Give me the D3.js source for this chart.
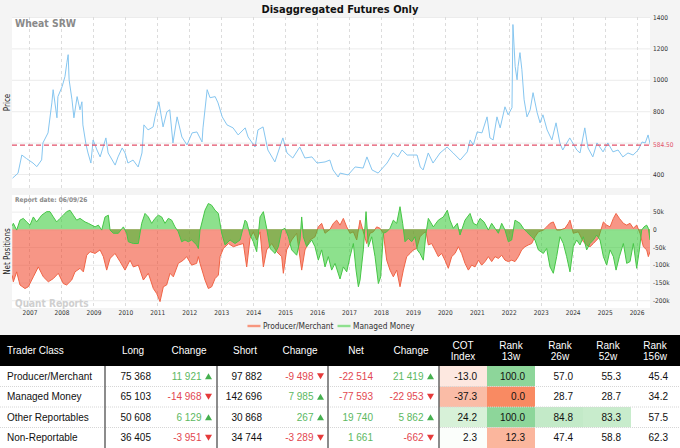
<!DOCTYPE html>
<html>
<head>
<meta charset="utf-8">
<script src="https://cdn.jsdelivr.net/npm/d3@7"></script>
<style>
body { margin: 0; background: #f4f4f4; }
svg { display: block; }
</style>
</head>
<body>
<svg id="chart" width="680" height="448"></svg>
<script>
// ---- price (decimal year, cents/bu) ----
var priceDates = [2006.47,2006.64,2006.76,2006.91,2007.11,2007.23,2007.38,2007.42,2007.58,2007.70,2007.74,2007.86,2007.89,
  2008.02,2008.11,2008.17,2008.21,2008.24,2008.33,2008.39,2008.49,2008.58,2008.64,2008.67,2008.77,2008.83,2008.92,2008.99,
  2009.11,2009.21,2009.39,2009.46,2009.68,2009.77,2009.90,2009.99,2010.08,2010.24,2010.40,2010.52,2010.58,2010.71,2010.87,2010.93,
  2011.05,2011.18,2011.30,2011.39,2011.49,2011.62,2011.77,2011.93,2012.09,2012.24,2012.40,2012.43,2012.56,2012.65,2012.81,2012.90,
  2013.03,2013.18,2013.37,2013.53,2013.75,2013.84,2014.06,2014.15,2014.31,2014.46,2014.68,2014.93,2015.06,2015.24,2015.46,2015.62,2015.84,
  2016.00,2016.25,2016.40,2016.50,2016.66,2016.72,2016.97,2017.19,2017.44,2017.56,2017.72,2017.91,2018.19,2018.38,2018.53,2018.66,2018.82,
  2019.13,2019.23,2019.32,2019.48,2019.63,2019.85,2020.07,2020.26,2020.48,2020.70,2020.79,2020.89,2021.01,2021.16,2021.32,2021.41,2021.51,
  2021.63,2021.73,2021.88,2021.98,2022.10,2022.13,2022.20,2022.26,2022.29,2022.35,2022.41,2022.48,2022.57,2022.67,2022.76,2022.89,2022.98,
  2023.07,2023.20,2023.35,2023.48,2023.60,2023.69,2023.91,2024.13,2024.23,2024.38,2024.48,2024.63,2024.76,2024.95,2025.10,2025.26,2025.42,
  2025.57,2025.73,2025.89,2026.05,2026.17,2026.27,2026.36,2026.43];
var priceValues = [374,405,521,498,470,447,490,598,662,853,937,758,893,
  956,1020,1109,1160,1000,873,758,893,809,860,713,585,534,470,617,
  553,509,630,534,457,509,566,534,470,489,445,534,713,681,700,764,
  860,700,796,809,598,764,636,585,662,668,604,694,937,886,893,853,
  764,713,694,649,694,636,572,681,700,553,477,630,534,502,572,502,509,
  470,477,489,426,381,406,394,445,438,509,426,406,470,534,509,553,521,
  521,445,426,534,470,534,572,534,489,541,617,585,668,662,764,630,617,
  764,694,828,777,822,1352,1084,1000,1084,1173,1064,873,764,809,918,790,726,
  777,681,617,726,598,553,630,553,534,694,566,509,598,541,598,541,553,
  509,534,521,553,604,598,649,585];
var lastPrice = 584.50;

// ---- net positions, thousands of contracts ----
var pmDates = [2006.46,2006.494,2006.598,2006.703,2006.859,2006.963,2007.120,2007.276,2007.433,2007.589,2007.746,2007.902,
  2008.059,2008.163,2008.320,2008.424,2008.581,2008.685,2008.789,2008.894,2009.050,2009.207,2009.311,2009.415,2009.520,2009.676,
  2009.833,2009.989,2010.146,2010.250,2010.406,2010.563,2010.719,2010.876,2010.980,2011.085,2011.189,2011.293,2011.398,2011.502,
  2011.659,2011.815,2011.919,2012.076,2012.232,2012.285,2012.337,2012.493,2012.597,2012.702,2012.806,2012.910,2012.963,2013.067,
  2013.224,2013.380,2013.537,2013.693,2013.797,2013.902,2014.006,2014.110,2014.215,2014.319,2014.423,2014.580,2014.736,2014.893,
  2014.945,2015.050,2015.206,2015.363,2015.519,2015.623,2015.780,2015.936,2016.040,2016.144,2016.249,2016.405,2016.510,2016.614,
  2016.718,2016.822,2016.927,2017.031,2017.135,2017.240,2017.344,2017.448,2017.553,2017.657,2017.761,2017.866,2017.970,2018.074,
  2018.179,2018.283,2018.387,2018.492,2018.596,2018.700,2018.805,2018.909,2019.013,2019.118,2019.222,2019.326,2019.410,2019.483,
  2019.587,2019.691,2019.796,2019.900,2020.004,2020.109,2020.213,2020.317,2020.422,2020.526,2020.630,2020.735,2020.839,2020.943,
  2021.048,2021.152,2021.256,2021.361,2021.465,2021.569,2021.674,2021.778,2021.882,2021.987,2022.091,2022.195,2022.300,2022.404,
  2022.508,2022.613,2022.717,2022.821,2022.926,2023.082,2023.186,2023.291,2023.395,2023.499,2023.604,2023.760,2023.865,2023.917,
  2024.021,2024.178,2024.334,2024.438,2024.543,2024.647,2024.804,2024.960,2025.064,2025.169,2025.273,2025.357,2025.461,2025.586,
  2025.690,2025.795,2025.899,2026.003,2026.108,2026.212,2026.316,2026.368,2026.420];
var pmNet = [-130,-148,-120,-157,-167,-162,-134,-106,-134,-148,-139,-124,
  -153,-157,-143,-120,-110,-120,-73,-63,-68,-58,-77,-115,-82,-68,
  -91,-115,-87,-106,-101,-143,-124,-167,-181,-204,-162,-157,-124,-134,
  -96,-87,-77,-101,-96,-77,-96,-143,-167,-162,-139,-129,-77,-54,
  -40,-49,-44,-40,-106,-25,-7,-30,-7,-106,-58,-40,-63,-77,
  -124,-58,-30,-11,-115,-58,-30,-21,7,17,-11,0,17,26,
  12,31,7,-11,-7,-30,26,-7,-40,-11,-7,7,3,-11,
  -87,-115,-134,-115,-162,-115,-77,-68,-58,-54,-21,-11,-7,-44,
  -40,-58,-77,-68,-87,-110,-77,-68,-49,-68,-96,-115,-101,-106,
  -87,-101,-91,-77,-91,-77,-82,-73,-87,-91,-87,-91,-77,-58,
  -49,-44,-40,-21,-7,-2,7,17,21,-2,-2,3,17,26,
  -11,-7,-35,-44,-49,-40,-25,21,12,7,31,45,31,17,
  12,17,3,12,-11,-49,-58,-77,-63];

var mmDates = [2006.46,2006.494,2006.598,2006.703,2006.807,2006.911,2007.016,2007.120,2007.224,2007.381,2007.537,2007.642,
  2007.746,2007.850,2007.955,2008.059,2008.163,2008.268,2008.372,2008.476,2008.581,2008.737,2008.841,2008.946,2009.050,2009.154,
  2009.259,2009.363,2009.467,2009.520,2009.624,2009.780,2009.937,2010.041,2010.093,2010.250,2010.406,2010.511,2010.615,2010.719,
  2010.824,2010.928,2011.033,2011.137,2011.241,2011.346,2011.450,2011.554,2011.659,2011.763,2011.867,2011.972,2012.076,2012.232,
  2012.285,2012.337,2012.493,2012.597,2012.702,2012.806,2012.910,2013.015,2013.119,2013.276,2013.432,2013.589,2013.745,2013.797,
  2013.902,2014.006,2014.110,2014.215,2014.319,2014.423,2014.528,2014.684,2014.789,2014.893,2014.997,2015.102,2015.206,2015.363,
  2015.467,2015.519,2015.571,2015.676,2015.832,2015.936,2016.040,2016.144,2016.249,2016.353,2016.457,2016.562,2016.718,2016.822,
  2016.927,2017.031,2017.135,2017.219,2017.292,2017.344,2017.448,2017.532,2017.605,2017.709,2017.814,2017.918,2017.991,2018.074,
  2018.179,2018.283,2018.387,2018.492,2018.596,2018.679,2018.752,2018.857,2018.961,2019.066,2019.138,2019.222,2019.326,2019.410,
  2019.483,2019.639,2019.796,2019.952,2020.077,2020.161,2020.265,2020.390,2020.474,2020.630,2020.787,2020.891,2020.996,2021.100,
  2021.225,2021.361,2021.465,2021.569,2021.674,2021.778,2021.882,2021.987,2022.091,2022.195,2022.352,2022.456,2022.560,2022.717,
  2022.821,2022.926,2023.082,2023.186,2023.291,2023.395,2023.499,2023.604,2023.708,2023.812,2023.917,2024.021,2024.125,2024.230,
  2024.334,2024.438,2024.543,2024.647,2024.751,2024.856,2024.960,2025.064,2025.169,2025.273,2025.357,2025.461,2025.586,2025.690,
  2025.795,2025.899,2026.003,2026.087,2026.160,2026.233,2026.316,2026.368,2026.420];
var mmNet = [10,17,-2,26,31,21,12,35,21,40,50,50,
  35,21,31,40,50,54,40,26,31,21,17,12,7,12,
  -2,35,40,-2,-11,-11,7,-11,-35,-40,-40,17,45,35,
  17,31,40,35,17,31,26,7,-7,-35,-30,-35,-30,-44,
  -54,-2,54,73,68,54,45,-11,-44,-30,-40,-30,26,21,
  -16,-35,-63,35,50,3,-54,-68,-49,-2,3,-21,-58,-73,
  -30,35,-21,-49,-30,-49,-87,-58,-106,-77,-115,-96,-140,-106,
  -120,-77,-40,-115,-162,-143,-58,50,-49,-21,-77,-153,-134,-11,
  -7,3,26,17,64,17,-35,-25,-35,-21,-58,-68,-87,-11,
  31,7,26,35,54,26,3,17,-16,26,45,17,12,31,
  21,-2,17,3,-11,17,-2,-35,-30,26,17,3,-7,-21,
  -30,-58,-68,-54,-106,-124,-77,-21,-40,-77,-120,-49,-30,-44,
  -21,-58,-40,-30,-16,-30,-77,-101,-58,-77,-115,-77,-40,-96,
  -91,-40,-110,-58,-2,7,12,3,-30];

var seriesNames = ["Producer/Merchant", "Managed Money"];
var years = [2007,2008,2009,2010,2011,2012,2013,2014,2015,2016,2017,2018,2019,2020,2021,2022,2023,2024,2025,2026];
var priceTicks = [400, 600, 800, 1000, 1200, 1400];
var priceLabelTicks = [400, 800, 1000, 1200, 1400];
var netTicks = [50, 0, -50, -100, -150, -200];

// ---- table ----
var tableHeaders = [["Trader Class"], ["Long"], ["Change"], ["Short"], ["Change"], ["Net"], ["Change"],
  ["COT", "Index"], ["Rank", "13w"], ["Rank", "26w"], ["Rank", "52w"], ["Rank", "156w"]];
var traderClasses = ["Producer/Merchant", "Managed Money", "Other Reportables", "Non-Reportable"];
var longVals = [75368, 65103, 50608, 36405];
var longChg = [11921, -14968, 6129, -3951];
var shortVals = [97882, 142696, 30868, 34744];
var shortChg = [-9498, 7985, 267, -3289];
var netVals = [-22514, -77593, 19740, 1661];
var netChg = [21419, -22953, 5862, -662];
var cotIndex = [-13.0, -37.3, 24.2, 2.3];
var rank13 = [100.0, 0.0, 100.0, 12.3];
var rank26 = [57.0, 28.7, 84.8, 47.4];
var rank52 = [55.3, 28.7, 83.3, 58.8];
var rank156 = [45.4, 34.2, 57.5, 62.3];

var svg = d3.select("#chart");
var chartFont = "'DejaVu Sans Condensed', 'DejaVu Sans', sans-serif";
var tableFont = "'Liberation Sans', Arial, sans-serif";

function toDate(t) {
  var y = Math.floor(t);
  var a = new Date(y, 0, 1), b = new Date(y + 1, 0, 1);
  return new Date(+a + (t - y) * (b - a));
}

var left = 12, right = 650;
var pTop = 17, pBottom = 188, nTop = 195, nBottom = 308;

var x = d3.scaleTime().domain([toDate(2006.452), toDate(2026.42)]).range([left, right]);
var yPrice = d3.scaleLinear().domain([311, 1400]).range([pBottom, pTop]);
var yNet = d3.scaleLinear().domain([-222, 97]).range([nBottom, nTop]);

var priceData = priceDates.map(function(t, i){ return {date: toDate(t), v: priceValues[i]}; });
var pmData = pmDates.map(function(t, i){ return {date: toDate(t), v: pmNet[i]}; });
var mmData = mmDates.map(function(t, i){ return {date: toDate(t), v: mmNet[i]}; });
var yearDates = years.map(function(y){ return new Date(y, 0, 1); });

// hyphen minus, space thousands
var loc = d3.formatLocale({decimal: ".", thousands: " ", grouping: [3], currency: ["", ""], minus: "-"});
var fmtInt = loc.format(",d");
var fmt1 = loc.format(".1f");

// background + plot panels
svg.append("rect").attr("width", 680).attr("height", 335).attr("fill", "#f4f4f4");
svg.append("rect").attr("x", left).attr("y", pTop).attr("width", right - left).attr("height", pBottom - pTop).attr("fill", "#fff");
svg.append("rect").attr("x", left).attr("y", nTop).attr("width", right - left).attr("height", nBottom - nTop).attr("fill", "#fff");

var defs = svg.append("defs");
defs.append("clipPath").attr("id", "clipP").append("rect")
  .attr("x", left).attr("y", pTop).attr("width", right - left).attr("height", pBottom - pTop);
defs.append("clipPath").attr("id", "clipN").append("rect")
  .attr("x", left).attr("y", nTop).attr("width", right - left).attr("height", nBottom - nTop);

// horizontal grids
svg.append("g").selectAll("line").data(priceTicks).enter().append("line")
  .attr("x1", left).attr("x2", right)
  .attr("y1", function(d){ return yPrice(d) + 0.5; }).attr("y2", function(d){ return yPrice(d) + 0.5; })
  .attr("stroke", "#ececec");
svg.append("g").selectAll("line").data(netTicks).enter().append("line")
  .attr("x1", left).attr("x2", right)
  .attr("y1", function(d){ return yNet(d) + 0.5; }).attr("y2", function(d){ return yNet(d) + 0.5; })
  .attr("stroke", "#ececec");

// vertical dashed year grids
[[pTop, pBottom], [nTop, nBottom]].forEach(function(r){
  svg.append("g").selectAll("line").data(yearDates).enter().append("line")
    .attr("x1", function(d){ return Math.round(x(d)) + 0.5; }).attr("x2", function(d){ return Math.round(x(d)) + 0.5; })
    .attr("y1", r[0]).attr("y2", r[1])
    .attr("stroke", "#dcdcdc").attr("stroke-dasharray", "3,3");
});

// price line
svg.append("path").datum(priceData)
  .attr("clip-path", "url(#clipP)")
  .attr("fill", "none").attr("stroke", "#86c6f0").attr("stroke-width", 1)
  .attr("d", d3.line().x(function(d){ return x(d.date); }).y(function(d){ return yPrice(d.v); }));

svg.append("line")
  .attr("x1", left).attr("x2", right).attr("y1", yPrice(lastPrice)).attr("y2", yPrice(lastPrice))
  .attr("stroke", "#e2506a").attr("stroke-width", 1.3).attr("stroke-dasharray", "5,3");

// watermark sits under the series
svg.append("text").attr("x", 15).attr("y", 306.5)
  .attr("font-family", chartFont).attr("font-weight", "bold").attr("font-size", "10px").attr("fill", "#cfcfcf")
  .text("Quant Reports");

// net position areas
var netArea = d3.area().x(function(d){ return x(d.date); }).y0(yNet(0)).y1(function(d){ return yNet(d.v); });
var netLine = d3.line().x(function(d){ return x(d.date); }).y(function(d){ return yNet(d.v); });
var netSeries = [
  {data: pmData, fill: "rgba(240,64,34,0.55)", stroke: "#f06446"},
  {data: mmData, fill: "rgba(48,200,48,0.55)", stroke: "#46c646"}
];
var gN = svg.append("g").attr("clip-path", "url(#clipN)");
netSeries.forEach(function(s){
  gN.append("path").datum(s.data).attr("fill", s.fill).attr("d", netArea);
  gN.append("path").datum(s.data).attr("fill", "none").attr("stroke", s.stroke).attr("stroke-width", 1).attr("d", netLine);
});

// axes
function styleAxis(g) {
  g.select(".domain").remove();
  g.selectAll("text").attr("font-family", chartFont).attr("font-size", "6.5px").attr("fill", "#333");
}
svg.append("g").attr("transform", "translate(" + (right + 3) + ",0)")
  .call(d3.axisRight(yPrice).tickValues(priceLabelTicks).tickSize(0).tickPadding(0).tickFormat(d3.format("d")))
  .call(styleAxis);
svg.append("g").attr("transform", "translate(" + (right + 3) + ",0)")
  .call(d3.axisRight(yNet).tickValues(netTicks).tickSize(0).tickPadding(0)
    .tickFormat(function(d){ return d === 0 ? "0" : d + "k"; }))
  .call(styleAxis);
svg.append("g").attr("transform", "translate(0," + (nBottom + 2) + ")")
  .call(d3.axisBottom(x).tickValues(yearDates).tickSize(0).tickPadding(0).tickFormat(d3.timeFormat("%Y")))
  .call(styleAxis);

svg.append("text").attr("x", right + 3).attr("y", yPrice(lastPrice)).attr("dy", "0.35em")
  .attr("font-family", chartFont).attr("font-size", "6.5px").attr("fill", "#e2506a").text("584.50");

// titles and labels
svg.append("text").attr("x", 340).attr("y", 12.7).attr("text-anchor", "middle")
  .attr("font-family", chartFont).attr("font-weight", "bold").attr("font-size", "11px").attr("fill", "#111")
  .text("Disaggregated Futures Only");
svg.append("text").attr("x", 15).attr("y", 27)
  .attr("font-family", chartFont).attr("font-weight", "bold").attr("font-size", "10.3px").attr("fill", "#8a8a8a")
  .text("Wheat SRW");
svg.append("text").attr("x", 15).attr("y", 201.5)
  .attr("font-family", chartFont).attr("font-weight", "bold").attr("font-size", "6.5px").attr("fill", "#8a8a8a")
  .text("Report date: 06/09/26");
svg.append("text").attr("transform", "translate(9.5," + ((pTop + pBottom) / 2) + ") rotate(-90)")
  .attr("text-anchor", "middle").attr("font-family", chartFont).attr("font-size", "8px").attr("fill", "#222")
  .text("Price");
svg.append("text").attr("transform", "translate(9.5," + ((nTop + nBottom) / 2) + ") rotate(-90)")
  .attr("text-anchor", "middle").attr("font-family", chartFont).attr("font-size", "8px").attr("fill", "#222")
  .text("Net Positions");

// legend
var legendColors = ["#f7967e", "#8ee08e"];
var legend = svg.append("g");
var lx = 0;
seriesNames.forEach(function(name, i){
  var item = legend.append("g").attr("transform", "translate(" + lx + ",0)");
  item.append("rect").attr("x", 0).attr("y", -1.2).attr("width", 13).attr("height", 2.4).attr("fill", legendColors[i]);
  var t = item.append("text").attr("x", 15.5).attr("y", 0).attr("dy", "0.35em")
    .attr("font-family", chartFont).attr("font-size", "8.3px").attr("fill", "#333").text(name);
  lx += 15.5 + t.node().getComputedTextLength() + 4;
});
legend.attr("transform", "translate(" + ((left + right) / 2 - (lx - 4) / 2) + ",326)");

// ---- table ----
var tTop = 335, headH = 31, rowH = 20.5;
var green = "#5cb85f", red = "#e2474f";

svg.append("rect").attr("x", 0).attr("y", tTop).attr("width", 680).attr("height", headH).attr("fill", "#000");
svg.append("rect").attr("x", 0).attr("y", tTop + headH).attr("width", 680).attr("height", 448 - tTop - headH).attr("fill", "#fff");

var headCenters = [null, 133, 189, 245, 300, 356, 411, 463, 511, 560, 608, 655];
tableHeaders.forEach(function(lines, i){
  lines.forEach(function(s, k){
    var yy = lines.length === 1 ? tTop + headH / 2 : tTop + 10 + k * 11.5;
    svg.append("text").attr("x", i === 0 ? 7 : headCenters[i]).attr("y", yy).attr("dy", "0.35em")
      .attr("text-anchor", i === 0 ? "start" : "middle")
      .attr("font-family", tableFont).attr("font-size", "10px").attr("fill", "#fff").text(s);
  });
});

// cell shading
var cellLeft = [439, 487, 535, 583, 631], cellW = 48;
function rankColor(v) {
  if (v >= 80) return d3.interpolateRgb("#d4f0d6", "#8dd69a")((v - 80) / 20);
  if (v <= 20) return d3.interpolateRgb("#f98a62", "#fcd2c2")(v / 20);
  return "#fff";
}
function cotColor(v) {
  return v < 0 ? d3.interpolateRgb("#fff", "#fab7a0")(Math.min(1, -v / 40))
               : d3.interpolateRgb("#fff", "#cdeecf")(Math.min(1, v / 30));
}
var shaded = [cotIndex, rank13, rank26, rank52, rank156];
var rightEdges = [477, 525, 573, 621, 668];

traderClasses.forEach(function(name, r){
  var y0 = tTop + headH + r * rowH, yc = y0 + rowH / 2;
  shaded.forEach(function(arr, c){
    svg.append("rect").attr("x", cellLeft[c]).attr("y", y0).attr("width", c === 4 ? 49 : cellW).attr("height", rowH)
      .attr("fill", c === 0 ? cotColor(arr[r]) : rankColor(arr[r]));
    svg.append("text").attr("x", rightEdges[c]).attr("y", yc).attr("dy", "0.35em").attr("text-anchor", "end")
      .attr("font-family", tableFont).attr("font-size", "10px").attr("fill", "#111").text(fmt1(arr[r]));
  });
  svg.append("text").attr("x", 7).attr("y", yc).attr("dy", "0.35em")
    .attr("font-family", tableFont).attr("font-size", "10px").attr("fill", "#111").text(name);

  [[longVals, 151], [shortVals, 262]].forEach(function(p){
    svg.append("text").attr("x", p[1]).attr("y", yc).attr("dy", "0.35em").attr("text-anchor", "end")
      .attr("font-family", tableFont).attr("font-size", "10px").attr("fill", "#111").text(fmtInt(p[0][r]));
  });
  svg.append("text").attr("x", 373).attr("y", yc).attr("dy", "0.35em").attr("text-anchor", "end")
    .attr("font-family", tableFont).attr("font-size", "10px").attr("fill", netVals[r] < 0 ? red : green)
    .text(fmtInt(netVals[r]));

  [[longChg, 212], [shortChg, 324], [netChg, 434]].forEach(function(p){
    var v = p[0][r], col = v < 0 ? red : green;
    svg.append("text").attr("x", p[1] - 10.5).attr("y", yc).attr("dy", "0.35em").attr("text-anchor", "end")
      .attr("font-family", tableFont).attr("font-size", "10px").attr("fill", col).text(fmtInt(v));
    var tx = p[1] - 7, tw = 7, th = 6;
    var pts = v < 0
      ? [[tx, yc - th / 2], [tx + tw, yc - th / 2], [tx + tw / 2, yc + th / 2]]
      : [[tx, yc + th / 2], [tx + tw, yc + th / 2], [tx + tw / 2, yc - th / 2]];
    svg.append("path").attr("d", "M" + pts.join("L") + "Z").attr("fill", v < 0 ? "#e53a3a" : "#45b04f");
  });
});

// row + column separators
[1, 2, 3].forEach(function(r){
  var yy = tTop + headH + r * rowH;
  svg.append("line").attr("x1", 0).attr("x2", 680).attr("y1", yy).attr("y2", yy)
    .attr("stroke", "#d6d6d6").attr("stroke-dasharray", "1,1");
});
[105, 217, 328, 439].forEach(function(xx){
  svg.append("line").attr("x1", xx).attr("x2", xx).attr("y1", tTop + headH).attr("y2", 448)
    .attr("stroke", "#666").attr("stroke-width", 1.5);
});
</script>
</body>
</html>
